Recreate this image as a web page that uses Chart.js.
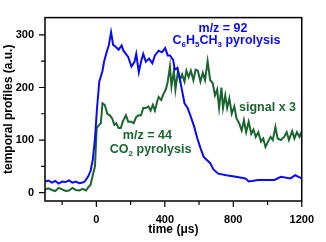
<!DOCTYPE html>
<html>
<head>
<meta charset="utf-8">
<script src="https://cdn.jsdelivr.net/npm/chart.js@4"></script>
<style>
  html, body { margin: 0; padding: 0; background: #fff; }
  #wrap { width: 326px; height: 242px; }
</style>
</head>
<body>
<div id="wrap"><canvas id="profiles"></canvas></div>
<script>
// m/z = 92 (toluene) trace
const tolTime = [-300, -280, -260, -240, -220, -200, -180, -160, -140, -120, -100, -80, -68, -49, -34, -21, -8, 4, 17, 36, 45, 60, 73, 86, 98, 111, 130, 148, 158, 186, 205, 223, 233, 248, 261, 274, 289, 308, 327, 342, 364, 383, 402, 417, 430, 449, 458, 473, 486, 496, 515, 533, 552, 571, 590, 608, 627, 646, 665, 684, 712, 759, 815, 871, 890, 946, 1040, 1078, 1134, 1162, 1200];
const tolSignal = [21, 23, 19, 22, 17, 21, 20, 23, 19, 21, 18, 19, 21, 30, 41, 62, 103, 161, 211, 232, 249, 267, 281, 305, 281, 278, 272, 280, 270, 258, 240, 249, 264, 229, 249, 264, 249, 255, 246, 261, 270, 267, 275, 261, 261, 252, 234, 237, 220, 202, 170, 161, 144, 126, 103, 85, 68, 62, 56, 44, 36, 33, 30, 27, 21, 24, 24, 30, 27, 33, 27];

// m/z = 44 (CO2) trace, signal x 3
const co2Time = [-300, -280, -260, -240, -220, -200, -180, -160, -140, -120, -100, -80, -60, -50, -34, -21, -8, 2, 17, 26, 36, 49, 64, 79, 92, 105, 116, 130, 143, 154, 173, 186, 205, 218, 233, 248, 261, 274, 289, 304, 317, 330, 342, 355, 364, 379, 392, 406, 417, 430, 439, 453, 462, 477, 488, 501, 515, 526, 539, 552, 567, 580, 593, 608, 622, 635, 650, 665, 680, 693, 706, 717, 731, 740, 753, 764, 777, 791, 806, 819, 834, 849, 862, 875, 890, 905, 918, 931, 946, 962, 975, 988, 1003, 1018, 1031, 1046, 1059, 1078, 1097, 1112, 1125, 1144, 1157, 1172, 1187, 1200];
const co2Signal = [6, 8, 5, 3, 9, 6, 3, 4, 9, 5, 4, 7, 4, 9, 15, 33, 50, 123, 129, 132, 170, 167, 150, 147, 141, 129, 132, 123, 123, 135, 147, 135, 135, 132, 144, 147, 147, 161, 161, 164, 156, 167, 156, 173, 182, 176, 188, 196, 211, 240, 202, 232, 196, 232, 214, 225, 211, 232, 220, 232, 214, 234, 232, 211, 228, 214, 250, 214, 208, 185, 196, 161, 200, 161, 185, 161, 179, 150, 164, 141, 132, 118, 138, 115, 135, 112, 120, 106, 115, 97, 103, 87, 97, 106, 100, 125, 103, 100, 106, 115, 100, 117, 103, 115, 106, 117];

const xMajor = [0, 400, 800, 1200];
const xMinor = [-200, 200, 600, 1000];
const yMajor = [0, 100, 200, 300];
const yMinor = [50, 150, 250];

const blue = '#0a0af5';
const green = '#1b6630';
const fontFam = '"Liberation Sans", Arial, sans-serif';

// text labels: [x, y] in data units, parts with optional subscript
const notes = [
  { x: 740, y: 312, color: blue, parts: [['m/z = 92', 0]] },
  { x: 760, y: 289, color: blue, parts: [['C', 0], ['6', 1], ['H', 0], ['5', 1], ['CH', 0], ['3', 1], [' pyrolysis', 0]] },
  { x: 1000, y: 161, color: green, parts: [['signal x 3', 0]] },
  { x: 298, y: 109, color: green, parts: [['m/z = 44', 0]] },
  { x: 317, y: 81, color: green, parts: [['CO', 0], ['2', 1], [' pyrolysis', 0]] }
];

const frame = {
  id: 'frame',
  afterDraw(chart) {
    const ctx = chart.ctx;
    const a = chart.chartArea;
    const xs = chart.scales.x, ys = chart.scales.y;
    ctx.save();
    ctx.strokeStyle = '#000';
    ctx.lineWidth = 1.5;
    ctx.strokeRect(a.left, a.top, a.right - a.left, a.bottom - a.top);
    ctx.lineWidth = 1.2;
    ctx.beginPath();
    xMajor.forEach(v => { const p = xs.getPixelForValue(v); ctx.moveTo(p, a.bottom); ctx.lineTo(p, a.bottom + 6); });
    xMinor.forEach(v => { const p = xs.getPixelForValue(v); ctx.moveTo(p, a.bottom); ctx.lineTo(p, a.bottom + 4); });
    yMajor.forEach(v => { const p = ys.getPixelForValue(v); ctx.moveTo(a.left, p); ctx.lineTo(a.left - 6, p); });
    yMinor.forEach(v => { const p = ys.getPixelForValue(v); ctx.moveTo(a.left, p); ctx.lineTo(a.left - 4, p); });
    ctx.stroke();

    // annotations
    ctx.textBaseline = 'middle';
    notes.forEach(n => {
      const big = 'bold 12.5px ' + fontFam, small = 'bold 8px ' + fontFam;
      let w = 0;
      n.parts.forEach(([t, s]) => { ctx.font = s ? small : big; w += ctx.measureText(t).width; });
      let x = xs.getPixelForValue(n.x) - w / 2;
      const y = ys.getPixelForValue(n.y);
      ctx.fillStyle = n.color;
      n.parts.forEach(([t, s]) => {
        ctx.font = s ? small : big;
        ctx.fillText(t, x, s ? y + 4 : y);
        x += ctx.measureText(t).width;
      });
    });
    ctx.restore();
  }
};

new Chart(document.getElementById('profiles'), {
  type: 'line',
  data: {
    datasets: [
      {
        data: tolTime.map((t, i) => ({ x: t, y: tolSignal[i] })),
        borderColor: blue,
        borderWidth: 2,
        pointRadius: 0,
        tension: 0
      },
      {
        data: co2Time.map((t, i) => ({ x: t, y: co2Signal[i] })),
        borderColor: green,
        borderWidth: 2,
        pointRadius: 0,
        tension: 0
      }
    ]
  },
  options: {
    responsive: true,
    maintainAspectRatio: false,
    animation: false,
    layout: { padding: { top: 2, right: 14, left: 0, bottom: 0 } },
    plugins: { legend: { display: false }, tooltip: { enabled: false } },
    scales: {
      x: {
        type: 'linear',
        min: -300,
        max: 1200,
        afterBuildTicks: s => { s.ticks = xMajor.map(v => ({ value: v })); },
        afterFit: s => { s.height = 41; },
        grid: { display: false, drawTicks: false },
        border: { display: false },
        ticks: { color: '#000', padding: 12, callback: v => String(v), font: { family: fontFam, size: 11, weight: 'bold' }, maxRotation: 0 },
        title: { display: true, text: 'time (μs)', color: '#000', padding: { top: 0, bottom: 5 }, font: { family: fontFam, size: 12, weight: 'bold' } }
      },
      y: {
        min: -16,
        max: 333,
        afterBuildTicks: s => { s.ticks = yMajor.map(v => ({ value: v })); },
        afterFit: s => { s.width = 45; },
        grid: { display: false, drawTicks: false },
        border: { display: false },
        ticks: { color: '#000', padding: 11, callback: v => String(v), font: { family: fontFam, size: 11, weight: 'bold' } },
        title: { display: true, text: 'temporal profiles (a.u.)', color: '#000', padding: { top: 1, bottom: 0 }, font: { family: fontFam, size: 12, weight: 'bold' } }
      }
    }
  },
  plugins: [frame]
});
</script>
</body>
</html>
